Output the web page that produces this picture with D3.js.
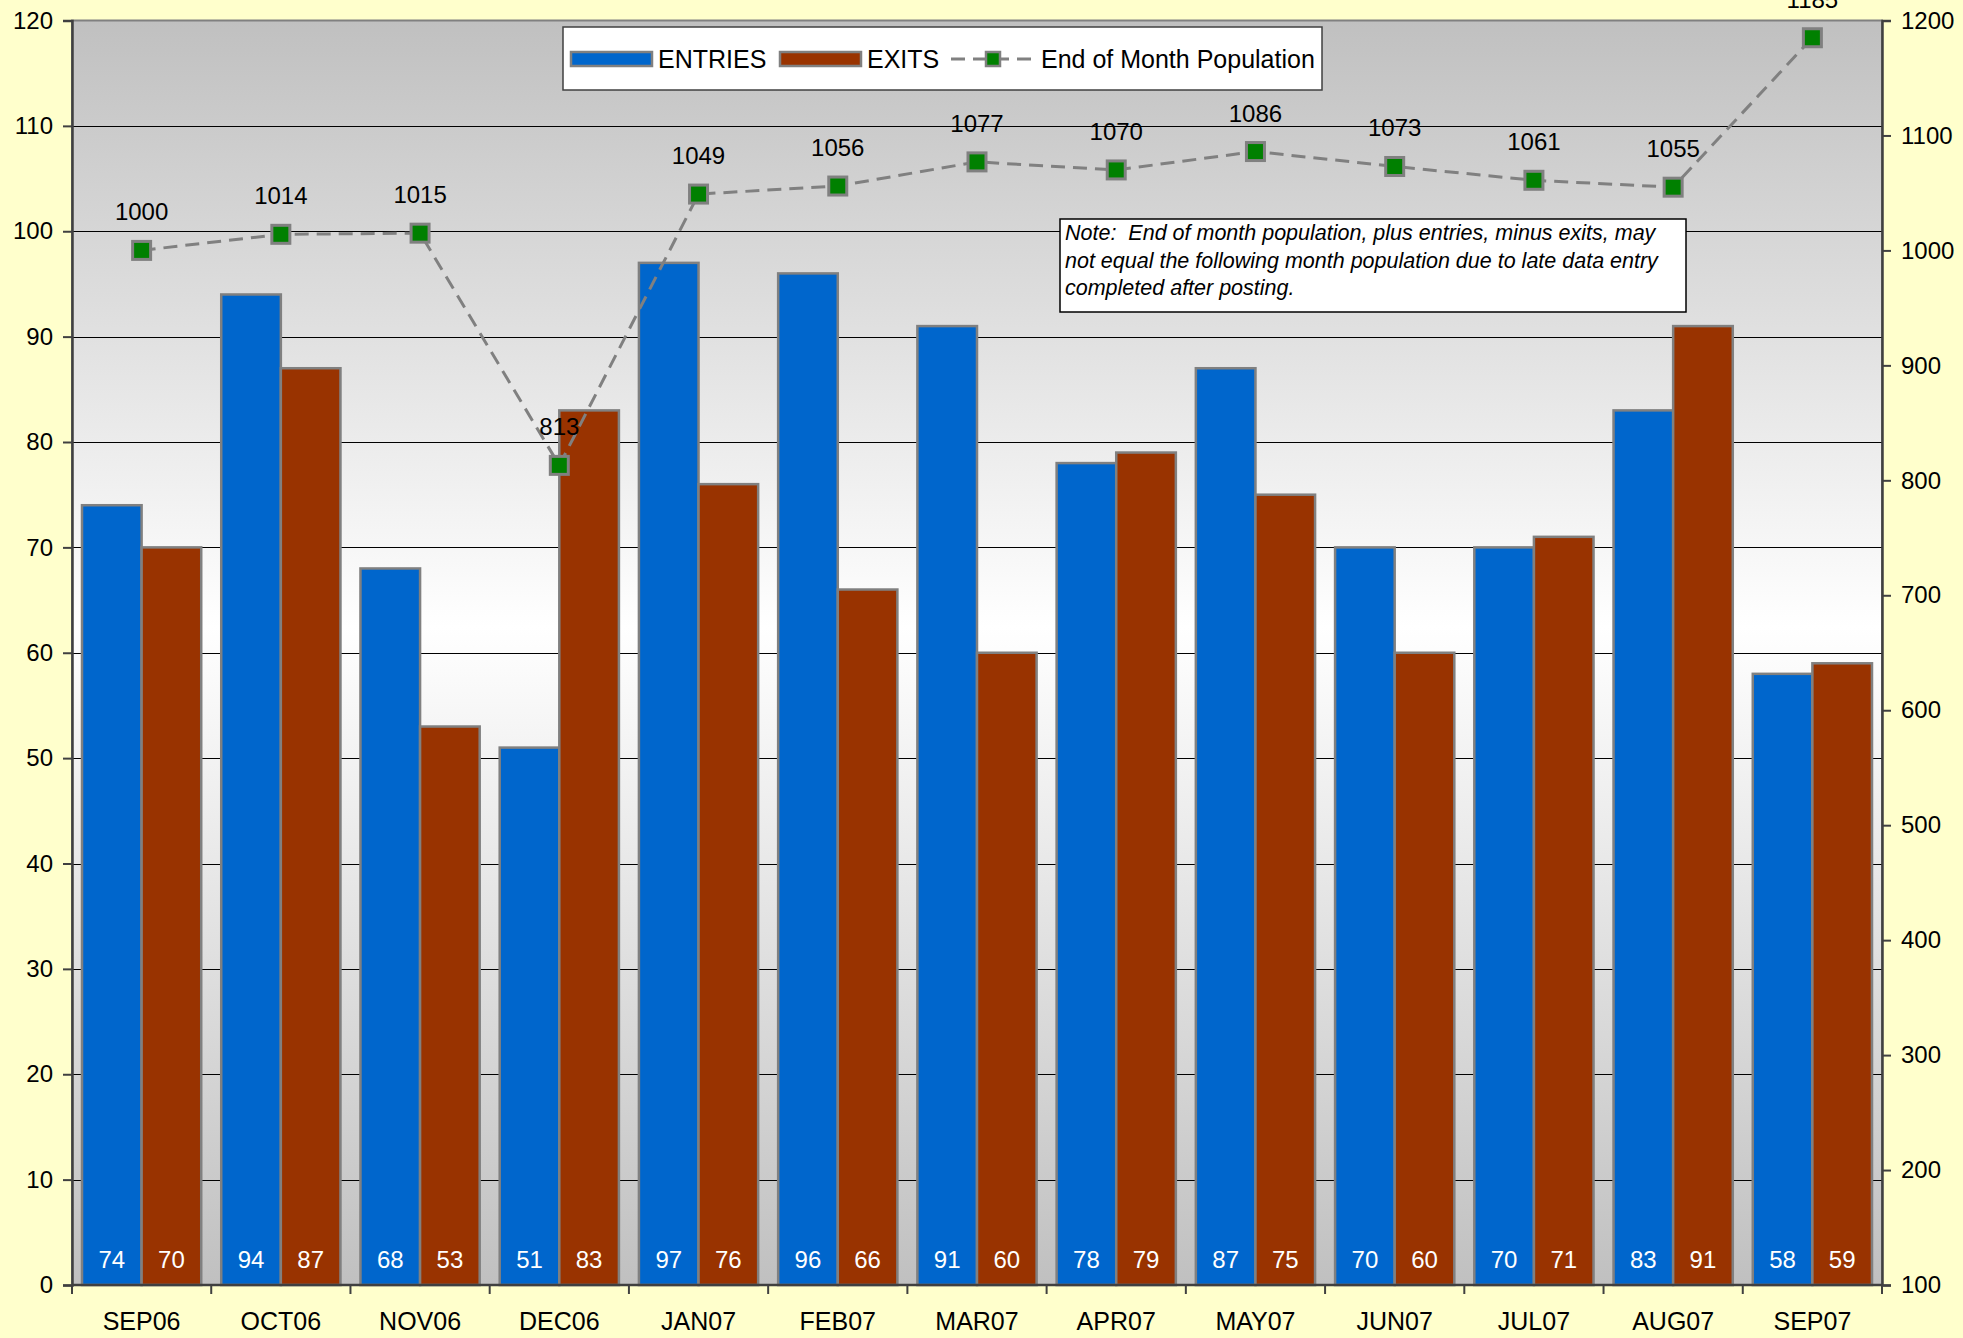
<!DOCTYPE html>
<html>
<head>
<meta charset="utf-8">
<script src="https://cdn.jsdelivr.net/npm/d3@7"></script>
<style>
  html, body { margin: 0; padding: 0; background: #FFFFCC; overflow: hidden; }
  svg { display: block; font-family: "Liberation Sans", Arial, sans-serif; }
</style>
</head>
<body>
<svg id="chart" width="1963" height="1338"></svg>
<script>
// Monthly entries / exits and end-of-month population
const months = ["SEP06","OCT06","NOV06","DEC06","JAN07","FEB07","MAR07","APR07","MAY07","JUN07","JUL07","AUG07","SEP07"];
const entries = [74, 94, 68, 51, 97, 96, 91, 78, 87, 70, 70, 83, 58];
const exits   = [70, 87, 53, 83, 76, 66, 60, 79, 75, 60, 71, 91, 59];
const population = [1000, 1014, 1015, 813, 1049, 1056, 1077, 1070, 1086, 1073, 1061, 1055, 1185];
const leftTicks = d3.range(0, 121, 10);
const rightTicks = d3.range(100, 1201, 100);
const noteLines = [
  "Note:  End of month population, plus entries, minus exits, may",
  "not equal the following month population due to late data entry",
  "completed after posting."
];

const svg = d3.select("#chart");
const plot = { left: 72, right: 1882, top: 20.5, bottom: 1285 };

const x = d3.scaleBand().domain(months).range([plot.left, plot.right]).padding(0);
const inner = d3.scaleBand().domain(["ENTRIES", "EXITS"])
  .range([10, x.bandwidth() - 10]).padding(0);
const yL = d3.scaleLinear().domain([0, 120]).range([plot.bottom, plot.top]);
const yR = d3.scaleLinear().domain([100, 1200]).range([plot.bottom, plot.top]);

// plot area background: grey -> white -> grey
const defs = svg.append("defs");
const grad = defs.append("linearGradient").attr("id", "bg")
  .attr("x1", 0).attr("y1", 0).attr("x2", 0).attr("y2", 1);
grad.append("stop").attr("offset", "0%").attr("stop-color", "#C0C0C0");
grad.append("stop").attr("offset", "48%").attr("stop-color", "#FFFFFF");
grad.append("stop").attr("offset", "100%").attr("stop-color", "#C0C0C0");

svg.append("rect")
  .attr("x", plot.left).attr("y", plot.top)
  .attr("width", plot.right - plot.left).attr("height", plot.bottom - plot.top)
  .attr("fill", "url(#bg)").attr("stroke", "#808080").attr("stroke-width", 2);

// horizontal gridlines
svg.append("g").selectAll("line")
  .data(leftTicks.filter(t => t > 0 && t < 120))
  .join("line")
  .attr("x1", plot.left).attr("x2", plot.right)
  .attr("y1", d => Math.round(yL(d)) + 0.5).attr("y2", d => Math.round(yL(d)) + 0.5)
  .attr("stroke", "#000").attr("stroke-width", 1);

// bars
const series = [
  { key: "ENTRIES", values: entries, color: "#0066CC" },
  { key: "EXITS", values: exits, color: "#993300" }
];
const barG = svg.append("g");
series.forEach(s => {
  barG.append("g").selectAll("rect")
    .data(months.map((m, i) => ({ m, v: s.values[i] })))
    .join("rect")
    .attr("x", d => x(d.m) + inner(s.key))
    .attr("y", d => yL(d.v))
    .attr("width", inner.bandwidth())
    .attr("height", d => yL(0) - yL(d.v))
    .attr("fill", s.color)
    .attr("stroke", "#808080").attr("stroke-width", 2.5);
  barG.append("g").selectAll("text")
    .data(months.map((m, i) => ({ m, v: s.values[i] })))
    .join("text")
    .attr("x", d => x(d.m) + inner(s.key) + inner.bandwidth() / 2)
    .attr("y", yL(0) - 17)
    .attr("text-anchor", "middle")
    .attr("fill", "#fff").attr("font-size", 24)
    .text(d => d.v);
});

// population line
const popPts = months.map((m, i) => ({ m, v: population[i] }));
const cx = d => x(d.m) + x.bandwidth() / 2;
svg.append("path")
  .datum(popPts)
  .attr("d", d3.line().x(cx).y(d => yR(d.v)))
  .attr("fill", "none").attr("stroke", "#808080")
  .attr("stroke-width", 3).attr("stroke-dasharray", "14,8");
svg.append("g").selectAll("rect")
  .data(popPts).join("rect")
  .attr("x", d => cx(d) - 9).attr("y", d => yR(d.v) - 9)
  .attr("width", 18).attr("height", 18)
  .attr("fill", "#008000").attr("stroke", "#808080").attr("stroke-width", 3);
svg.append("g").selectAll("text")
  .data(popPts).join("text")
  .attr("x", cx).attr("y", d => yR(d.v) - 30)
  .attr("text-anchor", "middle").attr("font-size", 24).attr("fill", "#000")
  .text(d => d.v);

// left axis
const axL = svg.append("g").attr("transform", `translate(${plot.left},0)`)
  .call(d3.axisLeft(yL).tickValues(leftTicks).tickSize(9).tickPadding(10).tickFormat(d3.format("d")));
axL.select(".domain").attr("stroke", "#404040").attr("stroke-width", 2.5);
axL.selectAll(".tick line").attr("stroke", "#404040").attr("stroke-width", 2);
axL.selectAll("text").attr("font-size", 24).attr("fill", "#000")
  .attr("font-family", "Liberation Sans, Arial, sans-serif");

// right axis
const axR = svg.append("g").attr("transform", `translate(${plot.right},0)`)
  .call(d3.axisRight(yR).tickValues(rightTicks).tickSize(9).tickPadding(10).tickFormat(d3.format("d")));
axR.select(".domain").attr("stroke", "#404040").attr("stroke-width", 2.5);
axR.selectAll(".tick line").attr("stroke", "#404040").attr("stroke-width", 2);
axR.selectAll("text").attr("font-size", 24).attr("fill", "#000")
  .attr("font-family", "Liberation Sans, Arial, sans-serif");

// bottom axis: ticks on category boundaries, labels centred
const axB = svg.append("g");
axB.append("line")
  .attr("x1", plot.left).attr("x2", plot.right)
  .attr("y1", plot.bottom).attr("y2", plot.bottom)
  .attr("stroke", "#404040").attr("stroke-width", 2.5);
axB.selectAll("line.tk")
  .data(months.map(m => x(m)).concat([x(months[months.length - 1]) + x.bandwidth()]))
  .join("line").attr("class", "tk")
  .attr("x1", d => d).attr("x2", d => d)
  .attr("y1", plot.bottom).attr("y2", plot.bottom + 9)
  .attr("stroke", "#404040").attr("stroke-width", 2);
axB.selectAll("text")
  .data(months).join("text")
  .attr("x", d => x(d) + x.bandwidth() / 2)
  .attr("y", plot.bottom + 45)
  .attr("text-anchor", "middle").attr("font-size", 25).attr("fill", "#000")
  .text(d => d);

// legend
const lg = svg.append("g");
lg.append("rect").attr("x", 563).attr("y", 27).attr("width", 759).attr("height", 63)
  .attr("fill", "#fff").attr("stroke", "#404040").attr("stroke-width", 1.5);
const legendItems = [
  { label: "ENTRIES", color: "#0066CC", x: 571 },
  { label: "EXITS", color: "#993300", x: 780 }
];
legendItems.forEach(it => {
  lg.append("rect").attr("x", it.x).attr("y", 52).attr("width", 81).attr("height", 14)
    .attr("fill", it.color).attr("stroke", "#808080").attr("stroke-width", 2.5);
  lg.append("text").attr("x", it.x + 87).attr("y", 68)
    .attr("font-size", 25).attr("fill", "#000").text(it.label);
});
lg.append("line").attr("x1", 951).attr("x2", 1035).attr("y1", 59).attr("y2", 59)
  .attr("stroke", "#808080").attr("stroke-width", 3).attr("stroke-dasharray", "14,8");
lg.append("rect").attr("x", 986).attr("y", 52).attr("width", 14).attr("height", 14)
  .attr("fill", "#008000").attr("stroke", "#808080").attr("stroke-width", 2.5);
lg.append("text").attr("x", 1041).attr("y", 68)
  .attr("font-size", 25).attr("fill", "#000").text("End of Month Population");

// note box
const nt = svg.append("g");
nt.append("rect").attr("x", 1060).attr("y", 219).attr("width", 626).attr("height", 93)
  .attr("fill", "#fff").attr("stroke", "#000").attr("stroke-width", 1.5);
nt.selectAll("text").data(noteLines).join("text")
  .attr("x", 1065).attr("y", (d, i) => 240 + i * 27.5)
  .attr("font-size", 21.5).attr("font-style", "italic").attr("fill", "#000")
  .style("white-space", "pre")
  .text(d => d);
</script>
</body>
</html>
